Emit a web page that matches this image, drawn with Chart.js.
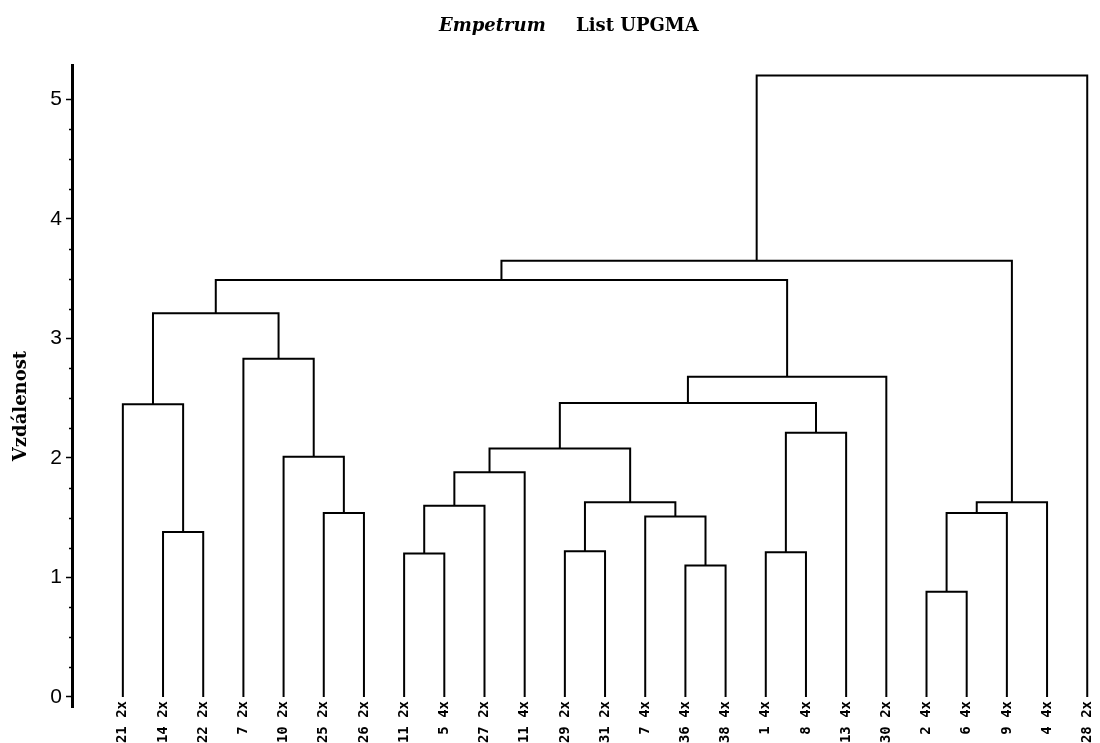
<!DOCTYPE html>
<html>
<head>
<meta charset="utf-8">
<title>Empetrum List UPGMA</title>
<script src="https://cdn.jsdelivr.net/npm/chart.js@4.4.0/dist/chart.umd.min.js"></script>
<style>
  html, body { margin: 0; padding: 0; background: #fff; }
  #wrap { width: 1100px; height: 743px; }
</style>
</head>
<body>
<div id="wrap"><canvas id="dendro" width="1100" height="743"></canvas></div>
<script>
// leaves in the order they are drawn (sample + ploidy)
const leafLabels = ['21 2x', '14 2x', '22 2x', '7 2x', '10 2x', '25 2x', '26 2x', '11 2x', '5 4x',
  '27 2x', '11 4x', '29 2x', '31 2x', '7 4x', '36 4x', '38 4x', '1 4x', '8 4x', '13 4x', '30 2x',
  '2 4x', '6 4x', '9 4x', '4 4x', '28 2x'];

// merges: id < 25 is a leaf, id 25 + k is merge k
const mergeLeft   = [20, 14, 7, 16, 11, 1, 13, 5, 25, 27, 29, 33, 34, 4, 37, 28, 0, 39, 42, 3, 41, 45, 46, 47];
const mergeRight  = [21, 15, 8, 17, 12, 2, 26, 6, 22, 9, 31, 23, 10, 32, 35, 18, 30, 40, 19, 38, 44, 43, 36, 24];
const mergeHeight = [0.88, 1.10, 1.20, 1.21, 1.22, 1.38, 1.51, 1.54, 1.54, 1.60, 1.63, 1.63, 1.88, 2.01,
  2.08, 2.21, 2.45, 2.46, 2.68, 2.83, 3.21, 3.49, 3.65, 5.20];

const yTickValues = [0, 1, 2, 3, 4, 5];
const yMinorStep = 0.25;

// node positions: leaves sit on their index, a merge sits between its children
const nodeX = leafLabels.map((_, i) => i);
const nodeY = leafLabels.map(() => 0);
const datasets = [];
mergeLeft.forEach((l, k) => {
  const r = mergeRight[k];
  const h = mergeHeight[k];
  nodeX.push((nodeX[l] + nodeX[r]) / 2);
  nodeY.push(h);
  datasets.push({
    data: [
      { x: nodeX[l], y: nodeY[l] },
      { x: nodeX[l], y: h },
      { x: nodeX[r], y: h },
      { x: nodeX[r], y: nodeY[r] }
    ],
    borderColor: '#000',
    borderWidth: 2,
    pointRadius: 0,
    tension: 0,
    fill: false,
    clip: false
  });
});

// title, y title and the short minor ticks
const decorPlugin = {
  id: 'decor',
  afterDraw(chart) {
    const ctx = chart.ctx;
    const y = chart.scales.y;
    const left = chart.chartArea.left;
    ctx.save();
    ctx.fillStyle = '#000';
    ctx.textBaseline = 'alphabetic';
    ctx.textAlign = 'left';
    ctx.font = 'italic bold 18px "DejaVu Serif"';
    ctx.fillText('Empetrum', 439, 31);
    ctx.font = 'bold 18px "DejaVu Serif"';
    ctx.fillText('List UPGMA', 576, 31);

    ctx.translate(21, 406);
    ctx.rotate(-Math.PI / 2);
    ctx.textAlign = 'center';
    ctx.textBaseline = 'middle';
    ctx.fillText('Vzdálenost', 0, 0);
    ctx.restore();

    ctx.save();
    ctx.strokeStyle = '#000';
    ctx.lineWidth = 1.5;
    ctx.beginPath();
    for (let v = 0; v <= yTickValues[yTickValues.length - 1]; v += yMinorStep) {
      if (Number.isInteger(v)) continue;
      const py = Math.round(y.getPixelForValue(v)) + 0.5;
      ctx.moveTo(left - 3, py);
      ctx.lineTo(left, py);
    }
    ctx.stroke();
    ctx.restore();
  }
};

new Chart(document.getElementById('dendro'), {
  type: 'line',
  data: { datasets: datasets },
  options: {
    responsive: false,
    animation: false,
    layout: { padding: { top: 65, right: 5, bottom: 36, left: 0 } },
    plugins: {
      legend: { display: false },
      tooltip: { enabled: false },
      title: { display: false }
    },
    scales: {
      x: {
        type: 'linear',
        position: { y: 0 },
        bounds: 'data',
        // range set here (not as min/max) so the last leaf past the edge is still drawn
        afterDataLimits: function(scale) {
          scale.min = -1.2655;
          scale.max = 23.82;
        },
        grid: { display: false },
        border: { display: false },
        afterBuildTicks: function(scale) {
          scale.ticks = leafLabels.map((_, i) => ({ value: i }));
        },
        ticks: {
          autoSkip: false,
          minRotation: 90,
          maxRotation: 90,
          padding: -4,
          color: '#000',
          font: { family: '"DejaVu Sans Mono"', size: 14, weight: 'bold' },
          callback: function(value) { return leafLabels[value]; }
        }
      },
      y: {
        type: 'linear',
        min: -0.084,
        max: 5.288,
        afterFit: function(scale) { scale.width = 72; },
        afterBuildTicks: function(scale) {
          scale.ticks = yTickValues.map(v => ({ value: v }));
        },
        grid: { drawOnChartArea: false, tickLength: 6, tickColor: '#000', tickWidth: 1.5 },
        border: { display: true, color: '#000', width: 3 },
        ticks: {
          padding: 4,
          color: '#000',
          font: { family: '"Liberation Sans"', size: 21 },
          callback: function(value) { return value; }
        }
      }
    }
  },
  plugins: [decorPlugin]
});
</script>
</body>
</html>
